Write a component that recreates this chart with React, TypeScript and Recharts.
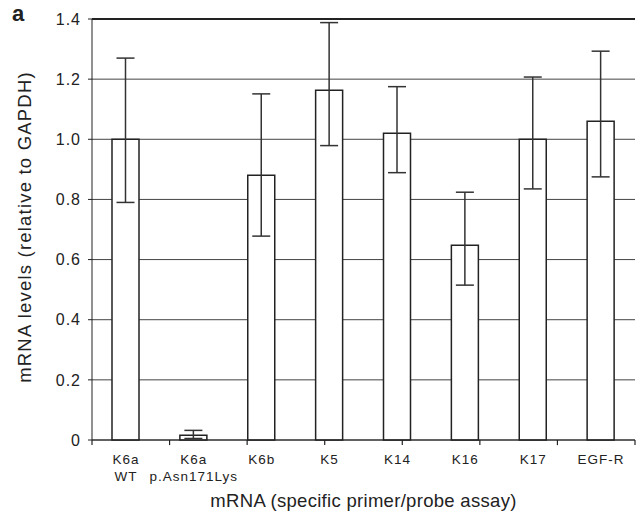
import { BarChart, Bar, XAxis, YAxis, CartesianGrid, ErrorBar, ReferenceLine } from "recharts";

const categories = ["K6a|WT", "K6a|p.Asn171Lys", "K6b", "K5", "K14", "K16", "K17", "EGF-R"];
const levels = [1.0, 0.016, 0.88, 1.163, 1.02, 0.648, 1.0, 1.06];
const errLow = [0.79, 0.005, 0.678, 0.979, 0.889, 0.515, 0.835, 0.875];
const errHigh = [1.27, 0.032, 1.151, 1.388, 1.175, 0.824, 1.207, 1.293];
const yTicks = [0, 0.2, 0.4, 0.6, 0.8, 1.0, 1.2, 1.4];
const edgeTicks = [0, 1, 2, 3, 4, 5, 6, 7, 8];

const data = categories.map((name, i) => ({
  name,
  value: levels[i],
  err: [levels[i] - errLow[i], errHigh[i] - levels[i]],
}));

const FONT = "'Liberation Sans', Arial, sans-serif";
const INK = "#222";

const CatTick = (props: any) => {
  const { x, y, payload } = props;
  const lines = String(payload.value).split("|");
  return (
    <g>
      {lines.map((l, i) => (
        <text
          key={i}
          x={x}
          y={y + 24 + i * 17}
          textAnchor="middle"
          fontSize={13.5}
          letterSpacing={1}
          fontFamily={FONT}
          fill={INK}
        >
          {l}
        </text>
      ))}
    </g>
  );
};

const YTitle = () => (
  <text
    x={24}
    y={227}
    transform="rotate(-90 24 227)"
    textAnchor="middle"
    dominantBaseline="central"
    fontSize={18.5}
    letterSpacing={1.2}
    fontFamily={FONT}
    fill={INK}
  >
    mRNA levels (relative to GAPDH)
  </text>
);

export default function App() {
  return (
    <div style={{ position: "absolute", left: 0, top: 0, width: 641, height: 517, background: "#fff" }}>
      <div
        style={{
          position: "absolute",
          left: 12,
          top: 3,
          lineHeight: "22px",
          fontFamily: FONT,
          fontWeight: "bold",
          fontSize: 22,
          color: INK,
        }}
      >
        a
      </div>
      <BarChart width={641} height={517} data={data} margin={{ top: 19, right: 6, left: 0, bottom: 0 }}>
        <CartesianGrid horizontal vertical={false} stroke="#444" xAxisId="num" />
        <XAxis xAxisId="num" type="number" domain={[0, 8]} ticks={edgeTicks} allowDataOverflow hide />
        <XAxis
          xAxisId="cat"
          dataKey="name"
          height={77}
          axisLine={false}
          tickLine={false}
          tickSize={0}
          tickMargin={0}
          interval={0}
          tick={<CatTick />}
          label={{
            value: "mRNA (specific primer/probe assay)",
            position: "insideBottom",
            offset: 10,
            fontSize: 18.5,
            letterSpacing: 0.3,
            fontFamily: FONT,
            fill: INK,
          }}
        />
        <YAxis
          domain={[0, 1.4]}
          ticks={yTicks}
          width={92}
          tickSize={4}
          tickMargin={7}
          axisLine={{ stroke: INK }}
          tickLine={{ stroke: INK }}
          tick={{ fontSize: 16, letterSpacing: 1, fontFamily: FONT, fill: INK }}
          tickFormatter={(v: number) => (v === 0 ? "0" : v.toFixed(1))}
          label={<YTitle />}
        />
        <ReferenceLine xAxisId="num" x={8} stroke={INK} strokeWidth={1.5} />
        <ReferenceLine xAxisId="num" y={1.4} stroke={INK} strokeWidth={2} />
        <ReferenceLine xAxisId="num" y={0} stroke={INK} strokeWidth={1.2} />
        {edgeTicks.map((t) => (
          <ReferenceLine
            key={t}
            xAxisId="num"
            segment={[
              { x: t, y: 0 },
              { x: t, y: -0.017 },
            ]}
            ifOverflow="visible"
            stroke={INK}
            strokeWidth={1.2}
          />
        ))}
        <Bar xAxisId="cat" dataKey="value" fill="#fff" stroke={INK} strokeWidth={1.5} barSize={27} isAnimationActive={false}>
          <ErrorBar dataKey="err" width={9} stroke="#333" strokeWidth={1.5} direction="y" />
        </Bar>
      </BarChart>
    </div>
  );
}
